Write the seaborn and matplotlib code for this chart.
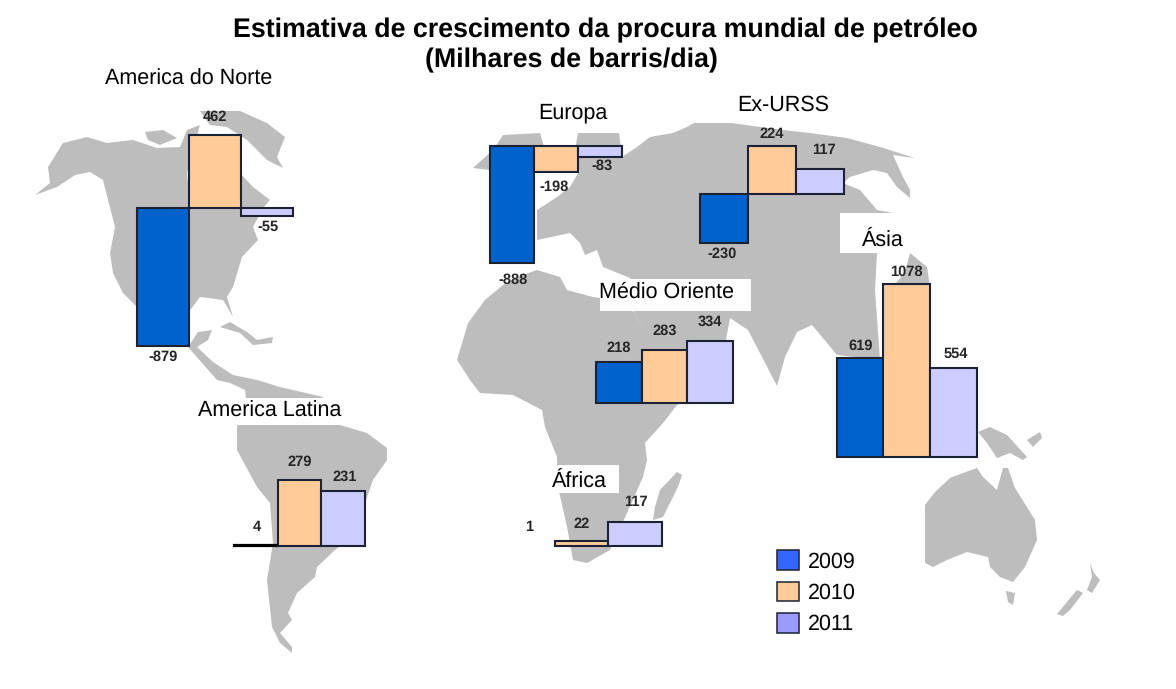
import matplotlib
matplotlib.use('Agg')
import matplotlib.pyplot as plt
from matplotlib.patches import Patch, Rectangle
import seaborn as sns

# values
years = ['2009', '2010', '2011']
america_norte = [-879, 462, -55]
europa = [-888, -198, -83]
ex_urss = [-230, 224, 117]
medio_oriente = [218, 283, 334]
asia = [619, 1078, 554]
america_latina = [4, 279, 231]
africa = [1, 22, 117]

bar_colors = ['#0062CC', '#FFCC99', '#CCCCFF']
legend_colors = ['#3366FF', '#FFCC99', '#9999FF']
edge = '#1B2233'
map_grey = '#BDBDBD'

W, H = 1176, 689

sns.set_theme(style='white')
plt.rcParams['font.family'] = ['Liberation Sans', 'DejaVu Sans']
plt.rcParams['text.hinting'] = 'no_hinting'

# region layout: left px, bar width px, baseline px, px per unit, label offsets px
layout = [
    (america_norte, 137, 52, 207.7, 0.157, [(0, 11), (0, -18), (1, 11)]),
    (europa, 490.4, 44, 145.7, 0.132, [(1, 17), (-2, 15), (2, 9)]),
    (ex_urss, 699.5, 48, 193.7, 0.213, [(-1, 11), (0, -12), (4, -19)]),
    (medio_oriente, 596, 45.7, 402.7, 0.185, [(0, -14), (0, -19), (0, -19)]),
    (asia, 836.7, 46.7, 456.7, 0.16, [(1, -12), (0, -12), (2, -14)]),
    (america_latina, 234, 43.7, 545.7, 0.235, [(1, -18), (0, -18), (1, -14)]),
    (africa, 501, 53.7, 546, 0.205, [(1, -19), (0, -17), (1, -20)]),
]

# map shapes in px, only a backdrop
north_america = [(35, 195), (50, 183), (48, 167), (63, 143), (87, 137), (107, 143), (133, 140),
                 (157, 148), (180, 147), (187, 130), (200, 125), (187, 173), (190, 207), (240, 173),
                 (253, 187), (270, 200), (263, 208), (253, 227), (258, 240), (242, 257), (233, 287),
                 (227, 297), (233, 317), (223, 300), (200, 297), (188, 313), (188, 347), (137, 347),
                 (137, 307), (123, 293), (113, 273), (110, 253), (115, 227), (108, 200), (103, 180),
                 (90, 172), (75, 175), (57, 187)]
greenland = [(200, 111), (240, 111), (267, 123), (285, 137), (277, 157), (283, 168), (267, 160),
             (247, 140), (227, 127), (210, 125)]
arctic_island = [(145, 132), (163, 130), (177, 138), (160, 145), (148, 140)]
cuba = [(220, 327), (230, 322), (247, 332), (257, 340), (273, 337), (272, 343), (253, 345), (240, 333)]
central_america = [(188, 347), (198, 332), (212, 330), (208, 340), (197, 347), (213, 362), (233, 375),
                   (257, 380), (280, 387), (323, 397), (323, 405), (247, 405), (245, 390), (230, 383),
                   (217, 380)]
south_america = [(245, 398), (322, 398), (340, 425), (367, 433), (387, 448), (387, 460), (373, 480),
                 (365, 503), (350, 537), (335, 550), (317, 567), (315, 577), (297, 593), (288, 613),
                 (292, 620), (280, 633), (292, 647), (292, 653), (280, 643), (272, 627), (267, 580),
                 (273, 543), (270, 503), (257, 487), (237, 450), (237, 427)]
eurasia = [(473, 168), (493, 150), (503, 135), (540, 133), (545, 150), (575, 150), (578, 133), (619, 133),
           (622, 157), (637, 147), (650, 137), (673, 133), (687, 127), (694, 123), (731, 123), (783, 130),
           (810, 133), (847, 138), (880, 147), (915, 158), (893, 155), (903, 177), (910, 190), (910, 198),
           (897, 187), (887, 173), (873, 170), (850, 177), (843, 183), (860, 190), (877, 210), (893, 213),
           (893, 240), (877, 253), (875, 290), (880, 360), (837, 355), (812, 325), (797, 332), (785, 357),
           (777, 386), (748, 330), (730, 318), (725, 345), (700, 395), (660, 395), (652, 345), (634, 312),
           (630, 278), (603, 267), (597, 250), (585, 255), (580, 243), (570, 233), (537, 240), (537, 210),
           (557, 197), (570, 187), (580, 170), (537, 170), (490, 170)]
japan_coast = [(910, 253), (927, 267), (930, 287), (893, 287), (905, 272)]
africa_map = [(457, 360), (468, 323), (485, 300), (503, 285), (517, 277), (537, 270), (560, 277),
              (567, 290), (593, 297), (615, 300), (634, 312), (657, 353), (664, 377), (678, 397), (703, 393),
              (677, 405), (663, 423), (645, 443), (647, 460), (643, 477), (627, 513), (610, 550),
              (587, 563), (573, 560), (567, 527), (558, 487), (557, 457), (545, 427), (542, 410),
              (513, 395), (480, 393), (470, 380)]
madagascar = [(677, 472), (682, 475), (678, 487), (663, 517), (653, 520), (655, 507), (660, 490)]
australia = [(925, 505), (935, 492), (950, 478), (963, 473), (977, 468), (983, 477), (997, 490),
             (1003, 468), (1008, 468), (1015, 488), (1035, 520), (1037, 540), (1025, 567),
             (1013, 582), (1000, 577), (990, 567), (988, 557), (967, 552), (947, 560), (933, 567),
             (925, 563)]
tasmania = [(1006, 591), (1015, 593), (1013, 605), (1008, 602)]
nz_south = [(1057, 614), (1077, 590), (1083, 593), (1070, 610), (1063, 616)]
nz_north = [(1090, 563), (1094, 573), (1100, 580), (1092, 593), (1087, 590), (1092, 577)]
new_guinea = [(978, 432), (990, 427), (1007, 435), (1027, 457), (1023, 460), (1010, 453), (997, 458),
              (987, 443)]
new_britain = [(1027, 440), (1040, 432), (1042, 438), (1033, 447)]
map_shapes = [north_america, greenland, arctic_island, cuba, central_america, south_america, eurasia,
              japan_coast, africa_map, madagascar, australia, tasmania, nz_south, nz_north, new_guinea,
              new_britain]

# white boxes the region names sit on
name_boxes = [(840, 213, 63, 40), (600, 279, 151, 32), (548, 465, 71, 28), (197, 398, 143, 27)]

fig = plt.figure(figsize=(W / 100, H / 100), dpi=100)
base = fig.add_axes([0, 0, 1, 1])
base.set_xlim(0, W)
base.set_ylim(H, 0)
base.axis('off')

for shape in map_shapes:
    xs, ys = zip(*shape)
    base.fill(xs, ys, color=map_grey, lw=0, zorder=1)
for x, y, w, h in name_boxes:
    base.add_patch(Rectangle((x, y), w, h, color='white', lw=0, zorder=2))


def draw_region(values, left, bar_w, baseline, scale, offsets):
    top_val = max(max(values), 0)
    low_val = min(min(values), 0)
    top_px = baseline - top_val * scale
    height = (top_val - low_val) * scale
    rect = [left / W, 1 - (top_px + height) / H, bar_w * 3 / W, height / H]
    ax = fig.add_axes(rect)
    ax.patch.set_alpha(0)
    sns.barplot(x=years, y=values, hue=years, palette=bar_colors, width=1, dodge=False, saturation=1,
                edgecolor=edge, linewidth=1.5, legend=False, ax=ax)
    ax.set_xlim(-0.5, 2.5)
    ax.set_ylim(low_val, top_val)
    ax.axis('off')
    for i, bar in enumerate(ax.patches):
        bar.set_clip_on(False)
        if abs(values[i]) < 2:
            bar.set_edgecolor('none')
        elif abs(values[i]) < 10:
            bar.set_edgecolor('black')
            bar.set_linewidth(1.6)
    for i, v in enumerate(values):
        dx, dy = offsets[i]
        ax.annotate(str(v), xy=(i, v), xytext=(dx, -dy), textcoords='offset pixels', ha='center',
                    va='center', fontsize=10.5, fontweight='bold', color='#262626',
                    annotation_clip=False)


for values, left, bar_w, baseline, scale, offsets in layout:
    draw_region(values, left, bar_w, baseline, scale, offsets)

# texts go on an overlay so the bars never cover them
over = fig.add_axes([0, 0, 1, 1])
over.set_xlim(0, W)
over.set_ylim(H, 0)
over.axis('off')
over.patch.set_alpha(0)

over.text(605, 30, 'Estimativa de crescimento da procura mundial de petróleo', ha='center', va='center',
          fontsize=19.3, fontweight='bold', color='black')
over.text(571, 60, '(Milhares de barris/dia)', ha='center', va='center', fontsize=19.3,
          fontweight='bold', color='black')

region_names = ['America do Norte', 'Europa', 'Ex-URSS', 'Ásia', 'Médio Oriente', 'America Latina', 'África']
name_pos = [(105, 79), (538, 113), (737, 105), (862, 240), (599, 292), (198, 411), (552, 481)]
for name, (x, y) in zip(region_names, name_pos):
    over.text(x, y, name, ha='left', va='center', fontsize=15.5, color='black')

handles = [Patch(facecolor=c, edgecolor=edge, linewidth=1.1, label=y) for c, y in zip(legend_colors, years)]
over.legend(handles=handles, loc='upper left', bbox_to_anchor=(773 / W, 1 - 546 / H), frameon=False,
            fontsize=15.5, handlelength=1, handleheight=1, handletextpad=0.4, labelspacing=0.46,
            borderpad=0.2, borderaxespad=0, labelcolor='black')

fig.savefig('out.png', dpi=100)
